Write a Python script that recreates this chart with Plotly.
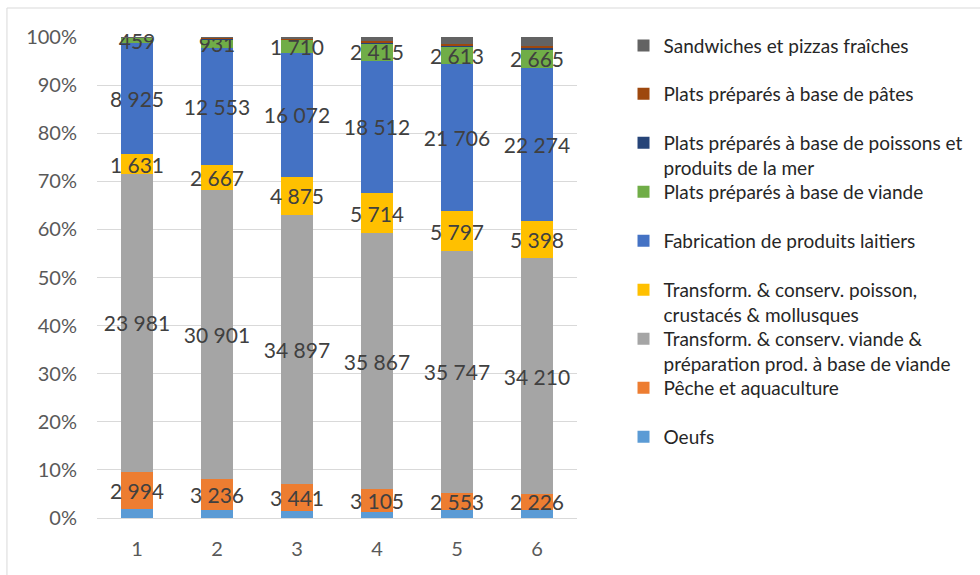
import plotly.graph_objects as go

categories = ["1", "2", "3", "4", "5", "6"]

oeufs = [750, 900, 950, 890, 1180, 1210]
peche = [2994, 3236, 3441, 3105, 2553, 2226]
transf_viande = [23981, 30901, 34897, 35867, 35747, 34210]
transf_poisson = [1631, 2667, 4875, 5714, 5797, 5398]
laitiers = [8925, 12553, 16072, 18512, 21706, 22274]
plats_viande = [459, 931, 1710, 2415, 2613, 2665]
plats_poissons = [20, 40, 60, 140, 150, 150]
plats_pates = [30, 80, 130, 170, 290, 330]
sandwiches = [10, 100, 150, 570, 1000, 1300]

y_tick_values = [0, 10, 20, 30, 40, 50, 60, 70, 80, 90, 100]
y_tick_labels = ["0%", "10%", "20%", "30%", "40%", "50%", "60%", "70%", "80%", "90%", "100%"]

series_names = [
    "Oeufs",
    "Pêche et aquaculture",
    "Transform. & conserv. viande &<br>préparation prod. à base de viande",
    "Transform. & conserv. poisson,<br>crustacés & mollusques",
    "Fabrication de produits laitiers",
    "Plats préparés à base de viande",
    "Plats préparés à base de poissons et<br>produits de la mer",
    "Plats préparés à base de pâtes",
    "Sandwiches et pizzas fraîches",
]
series_values = [oeufs, peche, transf_viande, transf_poisson, laitiers,
                 plats_viande, plats_poissons, plats_pates, sandwiches]
series_colors = ["#5B9BD5", "#ED7D31", "#A5A5A5", "#FFC000", "#4472C4",
                 "#70AD47", "#264478", "#9E480E", "#636363"]
labelled = [False, True, True, True, True, True, False, False, False]

FONT = "Lato"
W, H = 980, 575
ML, MR, MT, MB = 97, 398, 37, 57
PW, PH = W - ML - MR, H - MT - MB


def px_x(p):
    return (p - ML) / PW


def px_y(p):
    return (H - MB - p) / PH


def fmt(v):
    return f"{v:,}".replace(",", " ")


# legend first-line centres (px)
legend_pos = [437, 388, 339, 290, 241, 192, 143, 94, 45.7]

fig = go.Figure()
for i, (name, vals, col, lab) in enumerate(zip(series_names, series_values,
                                                series_colors, labelled)):
    lname = "legend" if i == 0 else f"legend{i + 1}"
    if lab:
        kw = dict(text=[fmt(v) for v in vals], texttemplate="%{text}",
                  textposition="inside", insidetextanchor="middle",
                  constraintext="none", textangle=0,
                  textfont=dict(family=FONT, size=21, color="#404040"))
    else:
        kw = dict(textposition="none")
    fig.add_trace(go.Bar(
        x=categories, y=vals, name=name,
        marker=dict(color=col, line=dict(width=0)),
        legend=lname, cliponaxis=False, **kw))
    nlines = name.count("<br>") + 1
    yc = legend_pos[i] + (nlines - 1) * 12.3
    fig.update_layout({lname: dict(
        x=px_x(629), xanchor="left", y=px_y(yc), yanchor="middle",
        valign="top", bgcolor="rgba(0,0,0,0)", borderwidth=0,
        font=dict(family=FONT, size=19, color="#262626"),
        itemclick=False, itemdoubleclick=False)})

fig.update_layout(
    width=W, height=H,
    margin=dict(l=ML, r=MR, t=MT, b=MB, pad=0),
    barmode="stack", barnorm="percent", bargap=0.61,
    separators=", ",
    paper_bgcolor="white", plot_bgcolor="white",
    font=dict(family=FONT, size=20, color="#595959"),
    showlegend=True,
    xaxis=dict(showgrid=False, ticks="", showline=False, zeroline=False,
               tickfont=dict(family=FONT, size=20, color="#595959"),
               ticklabelstandoff=17),
    yaxis=dict(range=[0, 100.01], tickmode="array",
               tickvals=y_tick_values, ticktext=y_tick_labels,
               showgrid=True, gridcolor="#D9D9D9", gridwidth=1,
               zeroline=True, zerolinecolor="#D9D9D9", zerolinewidth=1,
               showline=False, ticks="",
               tickfont=dict(family=FONT, size=20, color="#595959"),
               ticklabelstandoff=19),
    shapes=[
        dict(type="line", xref="paper", yref="paper",
             x0=px_x(6), x1=px_x(6), y0=px_y(8), y1=px_y(600),
             line=dict(color="#D9D9D9", width=1)),
        dict(type="line", xref="paper", yref="paper",
             x0=px_x(6), x1=px_x(1000), y0=px_y(8), y1=px_y(8),
             line=dict(color="#D9D9D9", width=1)),
    ],
)

fig.write_html("out.html")
